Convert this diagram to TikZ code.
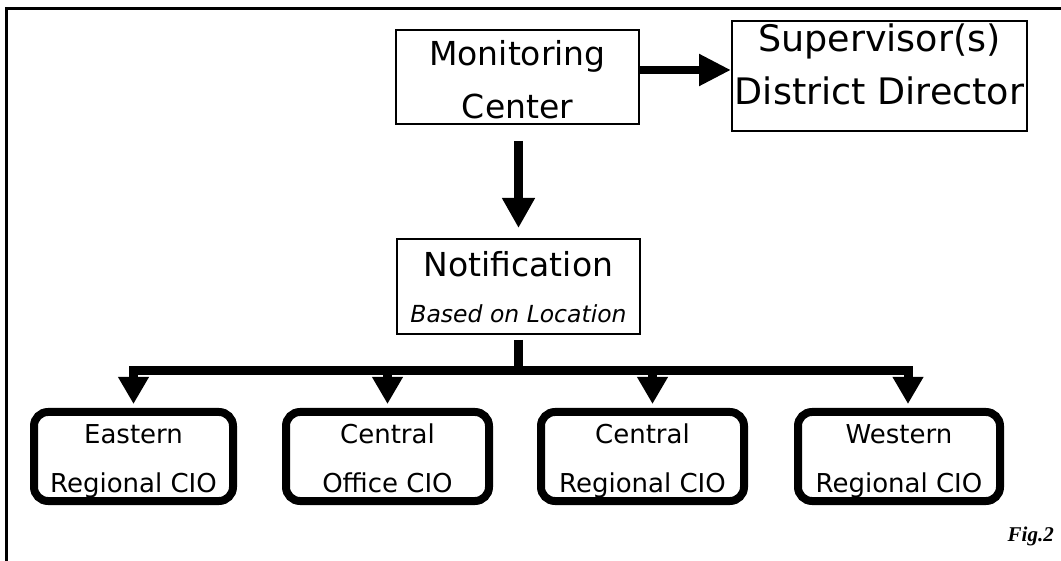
\documentclass[tikz,border=0pt]{standalone}
\usepackage{fontspec}
\setmainfont{DejaVu Sans}
\newfontfamily\figfont{Liberation Serif}
\usetikzlibrary{arrows.meta}

\begin{document}
\begin{tikzpicture}[x=1pt,y=-1pt,
  plainbox/.style={draw=black, line width=2pt, inner sep=0pt},
  officebox/.style={draw=black, line width=8pt, rounded corners=14pt,
    inner sep=0pt, minimum height=89pt},
  caption/.style={anchor=base, inner sep=0pt},
  bigtext/.style={font=\fontsize{#1}{#1}\selectfont},
  hflow/.style={line width=8pt, -{Triangle[length=32pt,width=30pt]}},
  vflow/.style={line width=9pt, -{Triangle[length=30pt,width=31pt]}},
  drop/.style={line width=9pt, -{Triangle[length=27pt,width=29pt]}},
  busline/.style={line width=9pt, line cap=rect},
  framing/.style={line width=3pt}
]
% page and frame
\fill[white] (0,0) rectangle (1061,561);
\useasboundingbox (0,0) rectangle (1061,561);
\draw[framing] (6.5,561) -- (6.5,9) -- (1061,9);

% boxes
\node[plainbox, minimum width=243pt, minimum height=94pt] (mon) at (517.5,77) {};
\node[plainbox, minimum width=295pt, minimum height=110pt] (sup) at (879.5,76) {};
\node[plainbox, minimum width=243pt, minimum height=95pt] (notif) at (518.5,286.5) {};
\node[officebox, minimum width=199pt] (b1) at (133.5,456.5) {};
\node[officebox, minimum width=203pt] (b2) at (387.5,456.5) {};
\node[officebox, minimum width=203pt] (b3) at (642.5,456.5) {};
\node[officebox, minimum width=202pt] (b4) at (899,456.5) {};

% box texts
\node[caption, bigtext=33] (monA) at (517.5,66) {Monitoring};
\node[caption, bigtext=33] (monB) at (517.5,119) {Center};
\node[caption, bigtext=36.5] (supA) at (879.5,52) {Supervisor(s)};
\node[caption, bigtext=36.5] (supB) at (879.5,105) {District Director};
\node[caption, bigtext=33] (notifA) at (518.5,277) {Notification};
\node[caption, font=\itshape\fontsize{23.5}{23.5}\selectfont] (notifB) at (518.5,323) {Based on Location};
\node[caption, bigtext=26] (b1A) at (133.5,443) {Eastern};
\node[caption, bigtext=26] (b1B) at (133.5,492) {Regional CIO};
\node[caption, bigtext=26] (b2A) at (387.5,443) {Central};
\node[caption, bigtext=26] (b2B) at (387.5,492) {Office CIO};
\node[caption, bigtext=26] (b3A) at (642.5,443) {Central};
\node[caption, bigtext=26] (b3B) at (642.5,492) {Regional CIO};
\node[caption, bigtext=26] (b4A) at (899,443) {Western};
\node[caption, bigtext=26] (b4B) at (899,492) {Regional CIO};
\node[caption, anchor=base east, font=\figfont\bfseries\itshape\fontsize{21}{21}\selectfont] (fig) at (1054,541) {Fig.2};

% connectors
\draw[hflow] ([yshift=7pt]mon.east) -- ([yshift=7pt]mon.east -| sup.west);
\draw[vflow] ([yshift=-16pt]mon.south -| notif.north) -- ([yshift=10pt]notif.north);
\coordinate (bus) at (0,371);
\draw[line width=9pt] ([yshift=-5pt]notif.south) -- (notif.south |- bus);
\draw[busline] (b1.north |- bus) -- ([xshift=9pt]b4.north |- bus);
\draw[drop] (b1.north |- bus) -- ([yshift=4pt]b1.north);
\draw[drop] (b2.north |- bus) -- ([yshift=4pt]b2.north);
\draw[drop] ([xshift=10pt]b3.north |- bus) -- ([xshift=10pt,yshift=4pt]b3.north);
\draw[drop] ([xshift=9pt]b4.north |- bus) -- ([xshift=9pt,yshift=4pt]b4.north);
\end{tikzpicture}
\end{document}
